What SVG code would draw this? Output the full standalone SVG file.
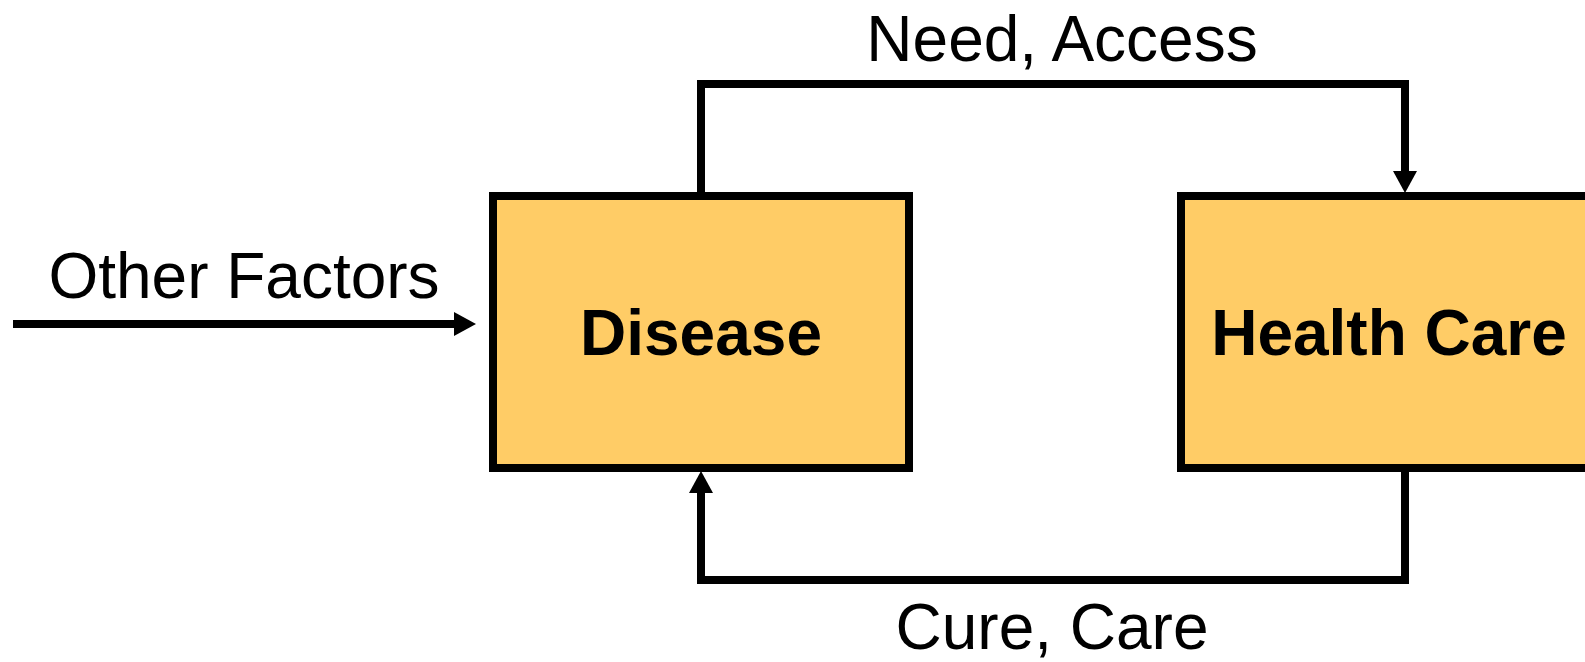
<svg xmlns="http://www.w3.org/2000/svg" width="1585" height="662" viewBox="0 0 1585 662">
  <style>
    .box { fill: #FFCC66; stroke: #000; stroke-width: 8; }
    .conn { fill: none; stroke: #000; stroke-width: 8; stroke-linejoin: miter; }
    .lbl { font-family: "Liberation Sans", Arial, sans-serif; font-size: 64px; fill: #000; text-anchor: middle; }
    .title { font-family: "Liberation Sans", Arial, sans-serif; font-size: 64px; font-weight: bold; fill: #000; text-anchor: middle; }
  </style>
  <defs>
    <marker id="arrow" viewBox="0 0 22 24" refX="1" refY="12" markerWidth="22" markerHeight="24" markerUnits="userSpaceOnUse" orient="auto">
      <path d="M0,0 L22,12 L0,24 z" fill="#000"/>
    </marker>
  </defs>
  <rect width="1585" height="662" fill="#fff"/>
  <g id="disease">
    <rect class="box" x="493" y="196" width="416" height="272"/>
    <text class="title" x="701" y="355">Disease</text>
  </g>
  <g id="health-care">
    <rect class="box" x="1181" y="196" width="440" height="272"/>
    <text class="title" x="1389" y="355">Health Care</text>
  </g>
  <g id="connectors">
    <path class="conn" d="M13,324 H455" marker-end="url(#arrow)"/>
    <path class="conn" d="M701,192 V84 H1405 V172" marker-end="url(#arrow)"/>
    <path class="conn" d="M1405,472 V580 H701 V492" marker-end="url(#arrow)"/>
    <text class="lbl" x="244" y="298">Other Factors</text>
    <text class="lbl" x="1062" y="61">Need, Access</text>
    <text class="lbl" x="1052" y="649">Cure, Care</text>
  </g>
</svg>
